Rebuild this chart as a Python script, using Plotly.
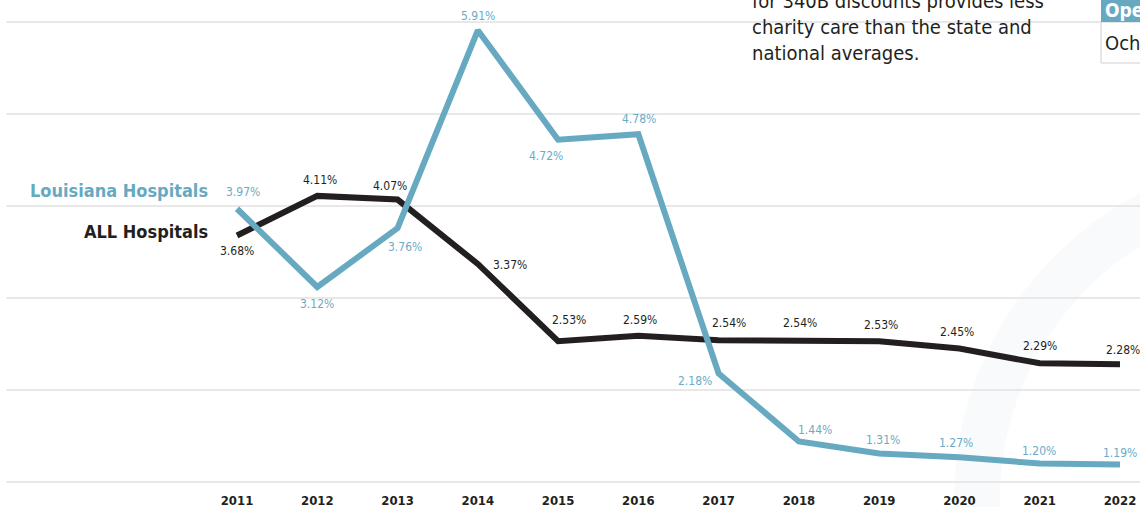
import plotly.graph_objects as go

years = [2011, 2012, 2013, 2014, 2015, 2016, 2017, 2018, 2019, 2020, 2021, 2022]
louisiana = [3.97, 3.12, 3.76, 5.91, 4.72, 4.78, 2.18, 1.44, 1.31, 1.27, 1.20, 1.19]
all_hosp = [3.68, 4.11, 4.07, 3.37, 2.53, 2.59, 2.54, 2.54, 2.53, 2.45, 2.29, 2.28]

# label offsets in pixels (dx, dy) for each point label
la_off = [(6, -17), (0, 17), (7, 19), (0, -14), (-12, 16), (1, -15), (-24, 8),
          (16, -12), (4, -13), (-3, -14), (-1, -13), (0, -12)]
all_off = [(0, 16), (3, -16), (-8, -14), (32, 1), (11, -21), (2, -16), (10, -17),
           (1, -17), (2, -16), (-2, -17), (0, -17), (3, -14)]

BLUE = "#66a9c1"
BLUE_TXT = "#6aabc6"
DARK = "#231f20"
FONT = "DejaVu Sans Condensed, Liberation Sans Narrow, Arial Narrow, sans-serif"

W, H = 1140, 507
ML, MR, MT, MB = 6, 0, 0, 20
x_left_px, x_right_px = 237, 1120
upp = (years[-1] - years[0]) / (x_right_px - x_left_px)
xr = [years[0] - (x_left_px - ML) * upp, years[-1] + (W - MR - x_right_px) * upp]
ppu = 92.0
yr = [1 - (H - MB - 482) / ppu, 6 + (22 - MT) / ppu]

def px(x):
    return (x - ML) / (W - ML - MR)

def py(y):
    return (H - MB - y) / (H - MT - MB)

fig = go.Figure()
fig.add_trace(go.Scatter(x=years, y=all_hosp, mode="lines",
                         line=dict(color=DARK, width=6), hoverinfo="skip"))
fig.add_trace(go.Scatter(x=years, y=louisiana, mode="lines",
                         line=dict(color=BLUE, width=6), hoverinfo="skip"))

ann = []
for yv, v, (dx, dy) in zip(years, all_hosp, all_off):
    ann.append(dict(x=yv, y=v, xref="x", yref="y", text=f"{v:.2f}%", showarrow=False,
                    xshift=dx, yshift=-dy, font=dict(family=FONT, size=12, color=DARK)))
for yv, v, (dx, dy) in zip(years, louisiana, la_off):
    ann.append(dict(x=yv, y=v, xref="x", yref="y", text=f"{v:.2f}%", showarrow=False,
                    xshift=dx, yshift=-dy, font=dict(family=FONT, size=12, color=BLUE_TXT)))

ann.append(dict(x=px(210), y=py(190), xref="paper", yref="paper", xanchor="right", yanchor="middle",
                text="<b>Louisiana Hospitals</b>", showarrow=False,
                font=dict(family=FONT, size=18, color=BLUE)))
ann.append(dict(x=px(210), y=py(232), xref="paper", yref="paper", xanchor="right", yanchor="middle",
                text="<b>ALL Hospitals</b>", showarrow=False,
                font=dict(family=FONT, size=18, color=DARK)))
ann.append(dict(x=px(750), y=py(-13), xref="paper", yref="paper", xanchor="left", yanchor="top",
                text="for 340B discounts provides less<br>charity care than the state and<br>national averages.",
                showarrow=False, align="left",
                font=dict(family=FONT, size=20, color=DARK)))

cx, cy, r = 1300, 500, 323
shapes = [
    dict(type="circle", xref="paper", yref="paper", x0=px(cx - r), x1=px(cx + r),
         y0=py(cy + r), y1=py(cy - r), line=dict(color="#f9fafc", width=46),
         fillcolor="rgba(0,0,0,0)", layer="below"),
    dict(type="rect", xref="paper", yref="paper", x0=px(1101), x1=px(1145), y0=py(63), y1=py(22),
         line=dict(color="#cfcfcf", width=1), fillcolor="white", layer="above"),
    dict(type="rect", xref="paper", yref="paper", x0=px(1101), x1=px(1145), y0=py(22), y1=py(-5),
         line=dict(width=0), fillcolor=BLUE, layer="above"),
]
ann.append(dict(x=px(1103), y=py(10), xref="paper", yref="paper", xanchor="left", yanchor="middle",
                text="<b>Ope</b>", showarrow=False, font=dict(family=FONT, size=19, color="white")))
ann.append(dict(x=px(1103), y=py(43), xref="paper", yref="paper", xanchor="left", yanchor="middle",
                text="Och", showarrow=False, font=dict(family=FONT, size=20, color=DARK)))

fig.update_layout(
    width=W, height=H,
    margin=dict(l=ML, r=MR, t=MT, b=MB),
    paper_bgcolor="white", plot_bgcolor="rgba(0,0,0,0)",
    showlegend=False,
    annotations=ann, shapes=shapes,
    xaxis=dict(range=xr, tickmode="array", tickvals=years, ticktext=[str(y) for y in years],
               showgrid=False, zeroline=False, showline=False, ticks="",
               tickfont=dict(family=FONT, size=13, color=DARK, weight="bold"), ticklabelstandoff=4),
    yaxis=dict(range=yr, dtick=1, tick0=0, showgrid=True, gridcolor="#e8e8e8", gridwidth=2,
               zeroline=False, showline=False, showticklabels=False, ticks=""),
)

fig.write_html("out.html", config={"displayModeBar": False},
               post_script="document.body.style.margin='0';document.body.style.padding='0';document.body.style.overflow='hidden';")
